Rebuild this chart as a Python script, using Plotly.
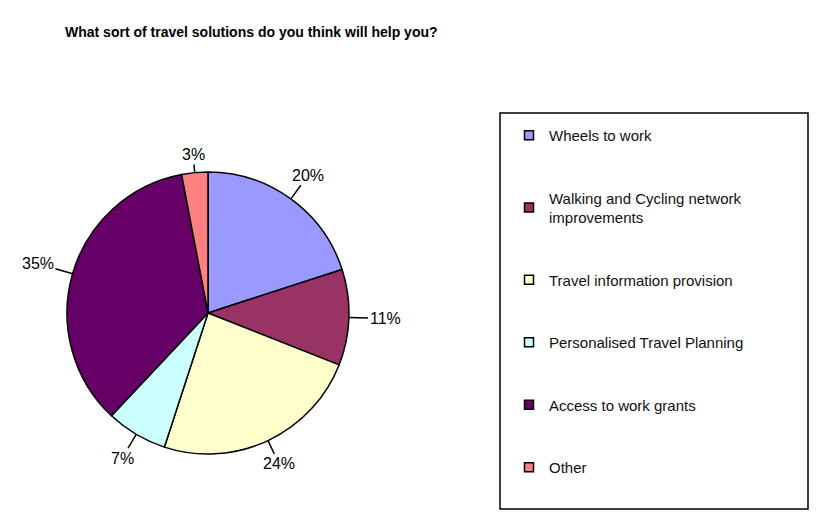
import math
import plotly.graph_objects as go

categories = ["Wheels to work", "Walking and Cycling network<br>improvements",
              "Travel information provision", "Personalised Travel Planning",
              "Access to work grants", "Other"]
values = [20, 11, 24, 7, 35, 3]
colors = ["#9999FF", "#993366", "#FFFFCC", "#CCFFFF", "#660066", "#FF8080"]
title_text = "What sort of travel solutions do you think will help you?"

W, H = 821, 516
CX, CY, R = 208, 313, 141  # pie centre / radius in px
FONT = "Liberation Sans, Arial, sans-serif"

fig = go.Figure()
fig.add_trace(go.Pie(
    labels=categories, values=values, sort=False, direction="clockwise", rotation=0,
    marker=dict(colors=colors, line=dict(color="black", width=1.5)),
    textinfo="none", showlegend=False, hoverinfo="label+percent",
    domain=dict(x=[(CX - R) / W, (CX + R) / W], y=[(H - CY - R) / H, (H - CY + R) / H]),
))

# legend entries (dummy traces, each in own group for spacing)
for i, (c, col) in enumerate(zip(categories, colors)):
    fig.add_trace(go.Scatter(
        x=[None], y=[None], mode="markers", name=c, legendgroup=str(i),
        marker=dict(symbol="square", size=9, color=col, line=dict(color="black", width=1.5)),
    ))

# percent labels with leader lines
total = sum(values)
cum = 0
anns = []
for v in values:
    mid = (cum + v / 2) / total * 2 * math.pi
    cum += v
    s, c = math.sin(mid), math.cos(mid)
    px = CX + R * s
    py = CY - R * c
    L = 12 + abs(s) * 24 + abs(c) * 4
    anns.append(dict(
        x=px / W, y=(H - py) / H, xref="paper", yref="paper",
        text=f"{round(v / total * 100)}%", showarrow=True, arrowhead=0,
        arrowwidth=1.5, arrowcolor="black", ax=L * s, ay=-L * c, standoff=0,
        font=dict(family=FONT, size=16, color="black"),
    ))

fig.update_layout(
    width=W, height=H, margin=dict(l=0, r=0, t=0, b=0, autoexpand=False),
    paper_bgcolor="white", plot_bgcolor="white",
    xaxis=dict(visible=False), yaxis=dict(visible=False),
    title=dict(text=f"<b>{title_text}</b>", x=65 / W, xanchor="left", xref="paper",
               y=1 - 32 / H, yanchor="middle",
               font=dict(family=FONT, size=14, color="black")),
    legend=dict(x=509 / W, xanchor="left", y=1 - 119 / H, yanchor="top",
                font=dict(family=FONT, size=15, color="#111"),
                tracegroupgap=40, bgcolor="rgba(0,0,0,0)", itemclick=False),
    annotations=anns,
    shapes=[dict(type="rect", xref="paper", yref="paper",
                 x0=500 / W, x1=808 / W, y0=1 - 509 / H, y1=1 - 113 / H,
                 line=dict(color="black", width=1.5), fillcolor="rgba(0,0,0,0)")],
)

fig.write_html("out.html")
